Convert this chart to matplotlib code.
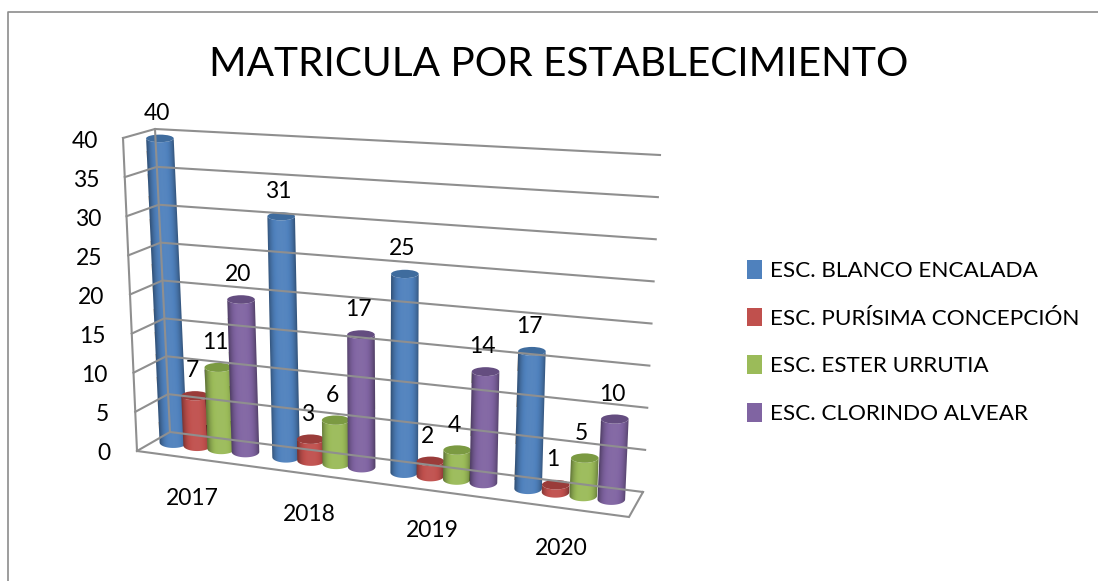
"""Matricula por establecimiento - 3D style cylinder chart drawn on a flat matplotlib axes."""

import numpy as np
import matplotlib

matplotlib.use("Agg")
import matplotlib.pyplot as plt
from matplotlib.patches import Ellipse, Patch, Polygon
from matplotlib.transforms import Affine2D

years = ["2017", "2018", "2019", "2020"]
schools = [
    "ESC. BLANCO ENCALADA",
    "ESC. PURÍSIMA CONCEPCIÓN",
    "ESC. ESTER URRUTIA",
    "ESC. CLORINDO ALVEAR",
]
blanco = [40, 31, 25, 17]
purisima = [7, 3, 2, 1]
ester = [11, 6, 4, 5]
clorindo = [20, 17, 14, 10]
series = [blanco, purisima, ester, clorindo]
y_ticks = [0, 5, 10, 15, 20, 25, 30, 35, 40]

base_colors = ["#4F81BD", "#C0504D", "#9BBB59", "#8064A2"]
top_colors = ["#3F6C9E", "#9A3C3A", "#7B9A42", "#644D80"]

# corners of the plot box on the canvas (pixels)
FRONT_LEFT = np.array([[137, 451], [123, 138]], dtype=float)
BACK_LEFT = np.array([[170, 432], [155, 129]], dtype=float)
BACK_RIGHT = np.array([[643, 492], [660, 155]], dtype=float)
FRONT_RIGHT = np.array([[629, 517], [643, 170]], dtype=float)
WARP = 1.1  # foreshortening along the category axis
DEPTH = 0.57
RADIUS = 13.8


def project(x, depth, value):
    """Category position (0-4), depth (0 front, 1 back), value (0-40) to canvas pixels."""
    u = x / len(years)
    s = u / (u + WARP * (1 - u))
    v = value / y_ticks[-1]
    left = (1 - depth) * FRONT_LEFT + depth * BACK_LEFT
    right = (1 - depth) * FRONT_RIGHT + depth * BACK_RIGHT
    edge = (1 - s) * left + s * right
    return (1 - v) * edge[0] + v * edge[1]


def bar_top(x, value):
    # tops sit a little under the wall scale, except for the very short bars
    top = project(x, DEPTH, value)
    top[1] += 4.5 * min(value, 5) / 5
    return top


def shade(color, amount):
    rgb = np.array(matplotlib.colors.to_rgb(color))
    if amount < 1:
        return rgb * amount
    return rgb + (1 - rgb) * (amount - 1)


def draw_cylinder(ax, x, value, color, top_color):
    bottom = project(x, DEPTH, 0)
    top = bar_top(x, value)
    semi_b = 5.5
    semi_t = 4.8 - 1.0 * value / y_ticks[-1]

    # body outline: lower half of the bottom ellipse, then the lower half of the top one
    angles = np.linspace(np.pi, 0, 41)
    outline = [(bottom[0] + RADIUS * np.cos(a), bottom[1] + semi_b * np.sin(a)) for a in angles]
    outline += [(top[0] + RADIUS * np.cos(a), top[1] + semi_t * np.sin(a)) for a in angles[::-1]]
    body = Polygon(outline, closed=True, facecolor="none", edgecolor="none", transform=ax.transData)
    ax.add_patch(body)

    # horizontal gradient leaned along the axis of the cylinder
    c = np.linspace(-1, 1, 64)
    gradient = np.array([[shade(color, 1.04 - 0.40 * abs(k) ** 3) for k in c]])
    lean = Affine2D.from_values(RADIUS, 0, top[0] - bottom[0], top[1] - bottom[1], bottom[0], bottom[1])
    im = ax.imshow(
        gradient,
        extent=(-1, 1, -1, 2),
        origin="lower",
        aspect="auto",
        interpolation="bilinear",
        transform=lean + ax.transData,
    )
    im.set_clip_path(body)
    ax.add_patch(Ellipse(top, 2 * RADIUS, 2 * semi_t, facecolor=top_color, edgecolor="none", zorder=im.get_zorder()))


plt.rcParams["font.family"] = ["Lato", "DejaVu Sans"]
fig = plt.figure(figsize=(10.98, 5.81), dpi=100)
ax = fig.add_axes([0, 0, 1, 1])
ax.axis("off")

# chart border
ax.plot([8, 8, 1098], [581, 12, 12], color="#8c8c8c", lw=1.2)

ax.text(559, 65, "MATRICULA POR ESTABLECIMIENTO", ha="center", va="center", fontsize=29.2, color="black")

# walls and floor
grid_color = "#8f8f8f"
n_years = len(years)
for tick in y_ticks:
    p0 = project(0, 0, tick)
    p1 = project(0, 1, tick)
    p2 = project(n_years, 1, tick)
    ax.plot([p0[0], p1[0], p2[0]], [p0[1], p1[1], p2[1]], color=grid_color, lw=1.5, solid_joinstyle="miter")
    ax.text(p0[0] - 26 + tick * 0.02, p0[1] + 3, str(tick), ha="right", va="center", fontsize=16.5, color="black")

wall_front = np.array([project(0, 0, 0), project(0, 0, y_ticks[-1])])
wall_back = np.array([project(0, 1, 0), project(0, 1, y_ticks[-1])])
floor = np.array([project(0, 0, 0), project(n_years, 0, 0), project(n_years, 1, 0)])
ax.plot(wall_front[:, 0], wall_front[:, 1], color=grid_color, lw=1.5)
ax.plot(wall_back[:, 0], wall_back[:, 1], color=grid_color, lw=1.5)
ax.plot(floor[:, 0], floor[:, 1], color=grid_color, lw=1.5, solid_joinstyle="miter")

# cylinders, left to right so the later ones sit in front
bar_start = 0.16
bar_step = 0.215
for i in range(n_years):
    for j, values in enumerate(series):
        draw_cylinder(ax, i + bar_start + j * bar_step, values[i], base_colors[j], top_colors[j])

# imshow resets the limits, so set them once all the images are in
ax.set_xlim(0, 1098)
ax.set_ylim(581, 0)
ax.set_aspect("auto")

# value labels after all the bars so nothing covers them
for i in range(n_years):
    for j, values in enumerate(series):
        top = bar_top(i + bar_start + j * bar_step, values[i])
        ax.text(top[0] - 3, top[1] - 25, str(values[i]), ha="center", va="center", fontsize=16.5, color="black", zorder=5)

for i, year in enumerate(years):
    p = project(i + 0.5, 0, 0)
    ax.text(p[0] - 1, p[1] + 40, year, ha="center", va="center", fontsize=16.5, color="black")

handles = [Patch(facecolor=c, edgecolor="none", label=s) for c, s in zip(base_colors, schools)]
ax.legend(
    handles=handles,
    loc="center left",
    bbox_to_anchor=(747 / 1098, 1 - 342 / 581),
    frameon=False,
    fontsize=16.2,
    handlelength=0.66,
    handleheight=0.9,
    handletextpad=0.36,
    labelspacing=1.18,
    borderpad=0,
    borderaxespad=0,
)

fig.savefig("out.png", dpi=100)
